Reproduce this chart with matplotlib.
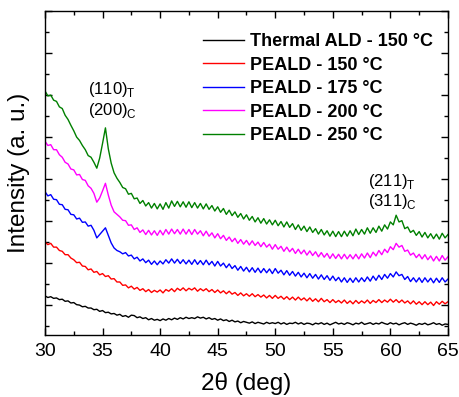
import numpy as np
import matplotlib
matplotlib.use("Agg")
import matplotlib.pyplot as plt
from matplotlib.ticker import MultipleLocator, NullFormatter

plt.rcParams['font.family'] = ['Liberation Sans', 'DejaVu Sans']
plt.rcParams['mathtext.fontset'] = 'custom'
plt.rcParams['mathtext.rm'] = 'Liberation Sans'

two_theta = np.arange(30.0, 65.001, 0.25)

thermal_150 = [
    0.22, 0.18, 0.20, 0.16, 0.17, 0.13, 0.14, 0.09, 0.10, 0.05, 0.06, 0.01,
    0.00, -0.04, -0.03, -0.07, -0.07, -0.11, -0.10, -0.15, -0.13, -0.18, -0.17, -0.21,
    -0.20, -0.24, -0.22, -0.27, -0.25, -0.29, -0.24, -0.25, -0.30, -0.28, -0.32, -0.30,
    -0.35, -0.32, -0.36, -0.34, -0.37, -0.33, -0.36, -0.32, -0.35, -0.31, -0.34, -0.30,
    -0.33, -0.29, -0.32, -0.30, -0.32, -0.28, -0.31, -0.29, -0.33, -0.30, -0.34, -0.32,
    -0.36, -0.33, -0.37, -0.35, -0.39, -0.36, -0.40, -0.38, -0.42, -0.39, -0.41, -0.43,
    -0.40, -0.44, -0.41, -0.43, -0.45, -0.41, -0.44, -0.42, -0.44, -0.41, -0.45, -0.42,
    -0.46, -0.43, -0.44, -0.41, -0.45, -0.42, -0.46, -0.43, -0.44, -0.47, -0.43, -0.45,
    -0.42, -0.46, -0.43, -0.47, -0.44, -0.41, -0.45, -0.43, -0.46, -0.42, -0.44, -0.47,
    -0.43, -0.45, -0.41, -0.46, -0.44, -0.42, -0.46, -0.43, -0.45, -0.41, -0.44, -0.46,
    -0.42, -0.45, -0.43, -0.47, -0.44, -0.42, -0.46, -0.43, -0.45, -0.48, -0.44, -0.46,
    -0.43, -0.47, -0.45, -0.42, -0.46, -0.44, -0.48, -0.45, -0.46]

peald_150 = [
    1.50, 1.44, 1.47, 1.38, 1.38, 1.30, 1.28, 1.20, 1.20, 1.12, 1.08, 1.01,
    1.02, 0.93, 0.92, 0.84, 0.86, 0.78, 0.80, 0.72, 0.75, 0.68, 0.70, 0.62,
    0.63, 0.55, 0.55, 0.47, 0.48, 0.41, 0.45, 0.38, 0.42, 0.35, 0.39, 0.32,
    0.37, 0.30, 0.35, 0.31, 0.36, 0.29, 0.37, 0.33, 0.39, 0.32, 0.40, 0.35,
    0.41, 0.34, 0.40, 0.36, 0.41, 0.33, 0.39, 0.34, 0.39, 0.32, 0.37, 0.30,
    0.36, 0.29, 0.34, 0.27, 0.33, 0.26, 0.30, 0.23, 0.29, 0.22, 0.27, 0.21,
    0.27, 0.20, 0.25, 0.19, 0.24, 0.17, 0.23, 0.16, 0.23, 0.16, 0.21, 0.14,
    0.20, 0.13, 0.19, 0.12, 0.19, 0.12, 0.17, 0.10, 0.17, 0.09, 0.15, 0.08,
    0.16, 0.08, 0.13, 0.06, 0.13, 0.06, 0.11, 0.05, 0.12, 0.04, 0.10, 0.03,
    0.11, 0.04, 0.10, 0.05, 0.12, 0.04, 0.11, 0.06, 0.13, 0.06, 0.12, 0.07,
    0.14, 0.07, 0.13, 0.06, 0.12, 0.05, 0.10, 0.03, 0.10, 0.02, 0.08, 0.01,
    0.08, 0.01, 0.07, -0.01, 0.08, 0.02, 0.09, 0.03, 0.08]

peald_175 = [
    2.70, 2.60, 2.63, 2.52, 2.51, 2.40, 2.39, 2.28, 2.27, 2.16, 2.15, 2.05,
    2.07, 1.97, 1.98, 1.88, 1.90, 1.78, 1.60, 1.68, 1.76, 1.84, 1.66, 1.48,
    1.36, 1.30, 1.27, 1.22, 1.25, 1.17, 1.19, 1.10, 1.14, 1.05, 1.10, 1.01,
    1.07, 0.97, 1.05, 0.96, 1.05, 0.98, 1.08, 1.00, 1.10, 1.00, 1.09, 0.99,
    1.08, 0.98, 1.07, 0.97, 1.08, 0.97, 1.06, 0.96, 1.07, 0.96, 1.04, 0.93,
    1.04, 0.93, 1.00, 0.89, 0.98, 0.87, 0.94, 0.83, 0.92, 0.81, 0.90, 0.79,
    0.89, 0.78, 0.88, 0.77, 0.87, 0.77, 0.86, 0.75, 0.87, 0.76, 0.83, 0.72,
    0.82, 0.71, 0.80, 0.69, 0.78, 0.67, 0.76, 0.65, 0.75, 0.64, 0.73, 0.62,
    0.72, 0.61, 0.70, 0.59, 0.69, 0.58, 0.66, 0.55, 0.65, 0.54, 0.64, 0.54,
    0.65, 0.55, 0.65, 0.56, 0.67, 0.57, 0.69, 0.59, 0.71, 0.61, 0.73, 0.64,
    0.75, 0.67, 0.79, 0.70, 0.73, 0.61, 0.68, 0.56, 0.65, 0.55, 0.65, 0.54,
    0.65, 0.55, 0.64, 0.53, 0.64, 0.54, 0.65, 0.55, 0.62]

peald_200 = [
    3.90, 3.80, 3.82, 3.70, 3.70, 3.58, 3.52, 3.40, 3.36, 3.24, 3.22, 3.10,
    3.11, 2.99, 2.97, 2.84, 2.78, 2.66, 2.45, 2.55, 2.72, 2.90, 2.62, 2.38,
    2.22, 2.16, 2.10, 2.02, 2.01, 1.90, 1.91, 1.80, 1.84, 1.73, 1.79, 1.68,
    1.78, 1.67, 1.77, 1.66, 1.78, 1.67, 1.80, 1.69, 1.81, 1.70, 1.80, 1.69,
    1.81, 1.69, 1.80, 1.68, 1.80, 1.69, 1.77, 1.65, 1.76, 1.64, 1.72, 1.60,
    1.70, 1.58, 1.66, 1.54, 1.62, 1.51, 1.59, 1.47, 1.56, 1.45, 1.54, 1.43,
    1.53, 1.42, 1.50, 1.39, 1.49, 1.38, 1.45, 1.33, 1.44, 1.33, 1.40, 1.28,
    1.38, 1.27, 1.35, 1.23, 1.33, 1.22, 1.31, 1.19, 1.29, 1.18, 1.27, 1.15,
    1.25, 1.14, 1.23, 1.11, 1.22, 1.11, 1.21, 1.10, 1.21, 1.10, 1.20, 1.10,
    1.21, 1.10, 1.22, 1.12, 1.24, 1.13, 1.26, 1.17, 1.30, 1.20, 1.33, 1.25,
    1.39, 1.32, 1.47, 1.38, 1.42, 1.28, 1.31, 1.19, 1.24, 1.13, 1.21, 1.10,
    1.20, 1.08, 1.17, 1.05, 1.16, 1.05, 1.18, 1.07, 1.15]

peald_250 = [
    5.10, 4.98, 5.00, 4.88, 4.85, 4.72, 4.68, 4.52, 4.42, 4.28, 4.15, 4.00,
    3.92, 3.80, 3.70, 3.56, 3.52, 3.40, 3.26, 3.50, 3.85, 4.22, 3.72, 3.38,
    3.15, 3.02, 2.92, 2.80, 2.77, 2.64, 2.66, 2.53, 2.55, 2.42, 2.49, 2.36,
    2.44, 2.31, 2.42, 2.29, 2.41, 2.28, 2.44, 2.31, 2.48, 2.35, 2.47, 2.34,
    2.46, 2.33, 2.46, 2.32, 2.44, 2.31, 2.42, 2.29, 2.41, 2.28, 2.37, 2.24,
    2.34, 2.21, 2.30, 2.16, 2.26, 2.13, 2.22, 2.09, 2.18, 2.05, 2.15, 2.02,
    2.11, 1.98, 2.08, 1.95, 2.06, 1.93, 2.03, 1.91, 2.02, 1.89, 1.99, 1.86,
    1.98, 1.85, 1.94, 1.80, 1.91, 1.78, 1.88, 1.75, 1.86, 1.73, 1.82, 1.69,
    1.80, 1.67, 1.77, 1.64, 1.76, 1.63, 1.75, 1.63, 1.76, 1.64, 1.77, 1.65,
    1.81, 1.68, 1.80, 1.69, 1.84, 1.71, 1.84, 1.73, 1.88, 1.76, 1.91, 1.81,
    1.98, 1.91, 2.14, 1.98, 2.01, 1.82, 1.86, 1.73, 1.78, 1.66, 1.75, 1.62,
    1.73, 1.60, 1.70, 1.58, 1.69, 1.57, 1.71, 1.60, 1.68]

series_labels = ['Thermal ALD - 150 °C', 'PEALD - 150 °C', 'PEALD - 175 °C',
                 'PEALD - 200 °C', 'PEALD - 250 °C']
series_colors = ['black', 'red', 'blue', 'magenta', 'green']
series_data = [thermal_150, peald_150, peald_175, peald_200, peald_250]

fig = plt.figure(figsize=(4.6, 3.97), dpi=100)
ax = fig.add_axes([0.0978, 0.156, 0.876, 0.816])

for y, c, lab in zip(series_data, series_colors, series_labels):
    ax.plot(two_theta, y, color=c, lw=1.0, label=lab)

ax.set_xlim(30, 65)
ax.set_ylim(-0.714, 7.0)
ax.xaxis.set_major_locator(MultipleLocator(5))
ax.xaxis.set_minor_locator(MultipleLocator(2.5))
ax.yaxis.set_major_locator(MultipleLocator(1))
ax.yaxis.set_minor_locator(MultipleLocator(0.5))
ax.yaxis.set_major_formatter(NullFormatter())
ax.tick_params(which='both', direction='in', top=True, right=True, width=1.0)
ax.tick_params(which='major', length=5, labelsize=14, pad=6)
ax.tick_params(which='minor', length=3)
for s in ax.spines.values():
    s.set_linewidth(1.0)

ax.set_xlabel('2θ (deg)', fontsize=17.5, labelpad=8)
ax.set_ylabel('Intensity (a. u.)', fontsize=17.5)
ax.yaxis.set_label_coords(-0.036, 0.5)

ax.text(35.82, 5.14, r'(110)$_\mathregular{T}$', fontsize=12, ha='center', va='center')
ax.text(35.82, 4.64, r'(200)$_\mathregular{C}$', fontsize=12, ha='center', va='center')
ax.text(60.15, 2.95, r'(211)$_\mathregular{T}$', fontsize=12, ha='center', va='center')
ax.text(60.15, 2.47, r'(311)$_\mathregular{C}$', fontsize=12, ha='center', va='center')

leg = ax.legend(loc='upper right', bbox_to_anchor=(0.962, 0.932), frameon=False,
                prop={'weight': 'bold', 'size': 13},
                handlelength=2.3, handletextpad=0.3, labelspacing=0.36,
                borderaxespad=0.0, borderpad=0.0)

fig.savefig('out.png', dpi=100)
